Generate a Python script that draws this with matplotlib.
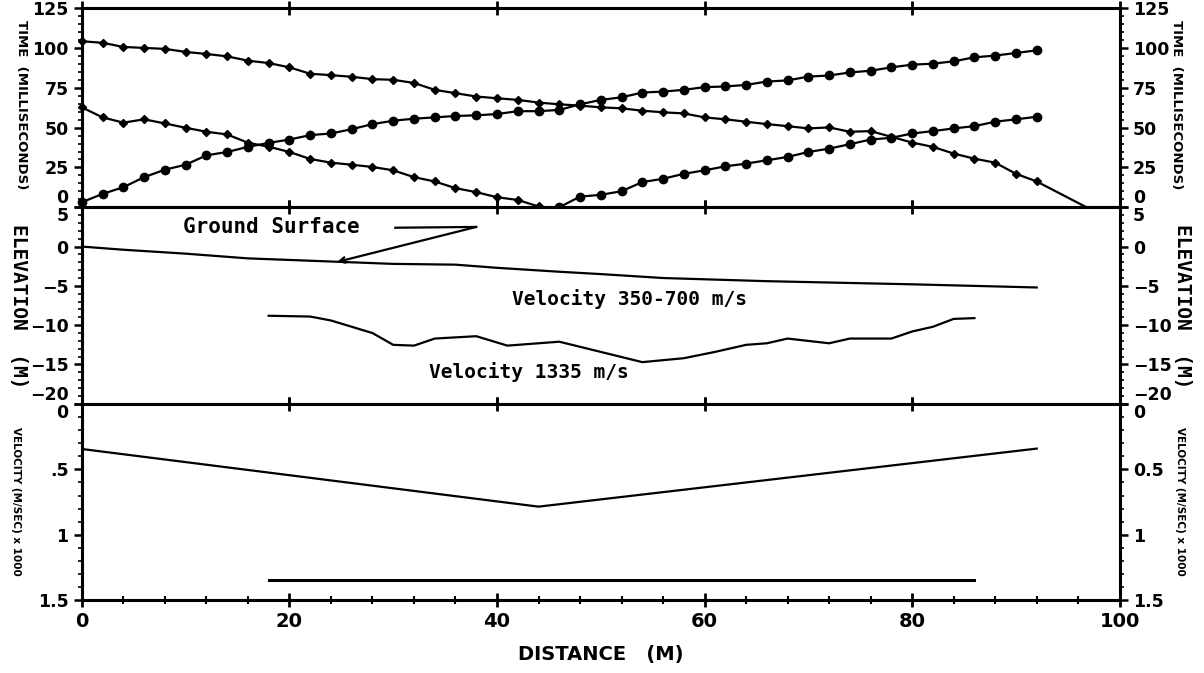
import matplotlib.pyplot as plt
from matplotlib.ticker import MultipleLocator, FuncFormatter

# ---- travel times (ms) vs distance (m) ----
dist_a = [0, 2, 4, 6, 8, 10, 12, 14, 16, 18, 20, 22, 24, 26, 28, 30, 32, 34, 36, 38, 40, 42, 44, 46,
          48, 50, 52, 54, 56, 58, 60, 62, 64, 66, 68, 70, 72, 74, 76, 78, 80, 82, 84, 86, 88, 90, 92, 96.8]
time_a = [104.2, 103.2, 100.6, 100.0, 99.4, 97.5, 96.2, 94.7, 92.0, 90.5, 87.8, 83.8, 82.9, 81.9, 80.4, 80.0,
          78.0, 73.7, 71.6, 69.5, 68.4, 67.4, 65.7, 64.6, 63.8, 62.7, 62.1, 60.6, 59.6, 58.9, 56.4, 55.2,
          53.7, 52.2, 50.9, 49.5, 50.1, 47.4, 47.8, 44.2, 40.6, 37.9, 33.7, 30.5, 28.0, 21.0, 16.2, 0.0]

dist_b = [0, 2, 4, 6, 8, 10, 12, 14, 16, 18, 20, 22, 24, 26, 28, 30, 32, 34, 36, 38, 40, 42, 44]
time_b = [62.7, 56.4, 53.1, 55.2, 52.6, 49.9, 47.4, 45.7, 40.5, 38.0, 34.7, 30.3, 28.0, 26.7, 25.3, 23.2,
          18.9, 16.2, 12.0, 9.5, 6.3, 4.6, 0.5]

dist_c = [0, 2, 4, 6, 8, 10, 12, 14, 16, 18, 20, 22, 24, 26, 28, 30, 32, 34, 36, 38, 40, 42, 44, 46,
          48, 50, 52, 54, 56, 58, 60, 62, 64, 66, 68, 70, 72, 74, 76, 78, 80, 82, 84, 86, 88, 90, 92]
time_c = [3.2, 8.4, 12.6, 18.9, 23.6, 26.7, 32.6, 34.7, 37.9, 40.4, 42.5, 45.3, 46.3, 49.0, 52.2, 54.3,
          55.6, 56.4, 57.3, 57.7, 58.5, 60.3, 60.3, 61.1, 64.6, 67.4, 69.0, 72.0, 72.6, 73.7, 75.4, 75.8,
          76.8, 78.9, 79.6, 82.0, 82.7, 84.6, 85.7, 87.8, 89.5, 90.1, 91.6, 94.1, 95.2, 96.8, 98.5]

dist_d = [46, 48, 50, 52, 54, 56, 58, 60, 62, 64, 66, 68, 70, 72, 74, 76, 78, 80, 82, 84, 86, 88, 90, 92]
time_d = [0.0, 6.7, 7.8, 10.1, 15.8, 17.9, 21.0, 23.2, 25.7, 27.4, 29.5, 31.6, 34.7, 36.8, 39.6, 42.5,
          43.6, 46.3, 47.8, 49.5, 50.9, 53.7, 55.2, 56.8]

# ---- elevation profile (m) ----
dist_ground = [0, 4, 10, 16, 24, 30, 36, 40, 46, 50, 56, 66, 80, 92]
elev_ground = [0, -0.4, -0.9, -1.5, -1.9, -2.2, -2.3, -2.7, -3.2, -3.5, -4.0, -4.4, -4.8, -5.2]

dist_refr = [18, 22, 24, 28, 30, 32, 34, 38, 41, 46, 50, 54, 58, 61, 64, 66, 68, 70, 72, 74, 78, 80, 82, 84, 86]
elev_refr = [-8.8, -8.9, -9.4, -11.0, -12.5, -12.6, -11.7, -11.4, -12.6, -12.1, -13.4, -14.7, -14.2,
             -13.4, -12.5, -12.3, -11.7, -12.0, -12.3, -11.7, -11.7, -10.8, -10.2, -9.2, -9.1]

# ---- velocity (m/s x 1000) ----
dist_v1 = [0, 44, 92]
vel_v1 = [0.345, 0.785, 0.342]
dist_v2 = [18, 86]
vel_v2 = [1.343, 1.343]

fig = plt.figure(figsize=(12.04, 6.73), dpi=100)
L, W = 0.068, 0.862
ax1 = fig.add_axes([L, 0.692, W, 0.296])
ax2 = fig.add_axes([L, 0.400, W, 0.292])
ax3 = fig.add_axes([L, 0.108, W, 0.292])

bold = dict(fontweight='bold')
mono = dict(family='DejaVu Sans Mono', fontweight='bold')
for ax in (ax1, ax2, ax3):
    ax.set_xlim(0, 100)
    ax.xaxis.set_major_locator(MultipleLocator(20))
    for s in ax.spines.values():
        s.set_linewidth(2.2)
    ax.tick_params(axis='x', which='major', direction='inout', length=10, width=2, top=True, bottom=True)
    ax.tick_params(axis='y', which='major', direction='out', length=6, width=1.8)
    ax.tick_params(axis='y', which='minor', direction='out', length=3, width=1.2)

ax1.set_xticklabels([])
ax2.set_xticklabels([])

# top panel: travel times
kw = dict(color='black', lw=1.6, clip_on=False)
ax1.plot(dist_a, time_a, marker='D', ms=3.8, markevery=list(range(len(dist_a) - 1)), **kw)
ax1.plot(dist_b, time_b, marker='D', ms=3.8, **kw)
ax1.plot(dist_c, time_c, marker='o', ms=6, **kw)
ax1.plot(dist_d, time_d, marker='o', ms=6, **kw)
ax1.set_ylim(0, 125)
ax1.yaxis.set_major_locator(MultipleLocator(25))
ax1.yaxis.set_minor_locator(MultipleLocator(5))

# middle panel: elevation
ax2.plot(dist_ground, elev_ground, color='black', lw=1.6)
ax2.plot(dist_refr, elev_refr, color='black', lw=1.6)
ax2.set_ylim(-20, 5)
ax2.yaxis.set_major_locator(MultipleLocator(5))
ax2.yaxis.set_minor_locator(MultipleLocator(1))
ax2.text(18.3, 2.5, 'Ground Surface', ha='center', va='center', fontsize=15, **mono)
ax2.plot([30.2, 38.0], [2.4, 2.5], color='black', lw=1.6)
ax2.annotate('', xy=(24.6, -1.95), xytext=(38.0, 2.5),
             arrowprops=dict(arrowstyle='->', lw=1.6, color='black', shrinkA=0, shrinkB=0))
ax2.text(52.8, -6.7, 'Velocity 350-700 m/s', ha='center', va='center', fontsize=14, **mono)
ax2.text(43.1, -16.0, 'Velocity 1335 m/s', ha='center', va='center', fontsize=14, **mono)

# bottom panel: velocity
ax3.plot(dist_v1, vel_v1, color='black', lw=1.6)
ax3.plot(dist_v2, vel_v2, color='black', lw=2.2)
ax3.set_ylim(1.5, 0)
ax3.yaxis.set_major_locator(MultipleLocator(0.5))
ax3.yaxis.set_minor_locator(MultipleLocator(0.1))
ax3.yaxis.set_major_formatter(FuncFormatter(lambda v, p: {0: '0', 0.5: '.5', 1: '1', 1.5: '1.5'}.get(v, '')))
ax3.xaxis.set_minor_locator(MultipleLocator(4))
ax3.tick_params(axis='x', which='minor', direction='inout', length=6, width=1.5, top=False)
ax3.set_xlabel('DISTANCE   (M)', fontsize=14, labelpad=10, **bold)

# right-hand axes
twins = []
for ax, fmt in ((ax1, None), (ax2, None), (ax3, lambda v, p: {0: '0', 0.5: '0.5', 1: '1', 1.5: '1.5'}.get(v, ''))):
    tw = ax.twinx()
    tw.set_ylim(ax.get_ylim())
    tw.yaxis.set_major_locator(ax.yaxis.get_major_locator())
    tw.yaxis.set_minor_locator(ax.yaxis.get_minor_locator())
    if fmt:
        tw.yaxis.set_major_formatter(FuncFormatter(fmt))
    tw.tick_params(axis='y', which='major', direction='out', length=6, width=1.8)
    tw.tick_params(axis='y', which='minor', direction='out', length=3, width=1.2)
    twins.append(tw)

for ax in (ax1, ax2, ax3, *twins):
    ax.tick_params(axis='y', labelsize=12.5)
    for lab in ax.get_yticklabels() + ax.get_xticklabels():
        lab.set_fontweight('bold')
ax3.tick_params(axis='x', labelsize=14)

# axis titles (rotated, reading top to bottom)
fig.text(0.018, 0.845, 'TIME  (MILLISECONDS)', rotation=270, ha='center', va='center', fontsize=9.5, **bold)
fig.text(0.977, 0.845, 'TIME  (MILLISECONDS)', rotation=270, ha='center', va='center', fontsize=9.5, **bold)
fig.text(0.015, 0.545, 'ELEVATION  (M)', rotation=270, ha='center', va='center', fontsize=14, **mono)
fig.text(0.982, 0.545, 'ELEVATION  (M)', rotation=270, ha='center', va='center', fontsize=14, **mono)
fig.text(0.013, 0.255, 'VELOCITY (M/SEC) x 1000', rotation=270, ha='center', va='center', fontsize=7.5, **bold)
fig.text(0.980, 0.255, 'VELOCITY (M/SEC) x 1000', rotation=270, ha='center', va='center', fontsize=7.5, **bold)

# nudge the tick labels that meet at the panel joins
fig.canvas.draw()
shifts = {id(ax1): {0: 'bottom'}, id(ax2): {5: 'top', -20: 'bottom'}, id(ax3): {0: 'top'}}
for ax, tw in zip((ax1, ax2, ax3), twins):
    rule = shifts[id(ax)]
    for a in (ax, tw):
        for t in a.yaxis.get_major_ticks():
            loc = round(t.get_loc(), 3)
            if loc in rule:
                t.label1.set_va(rule[loc])
                t.label2.set_va(rule[loc])

fig.savefig('out.png', dpi=100)
